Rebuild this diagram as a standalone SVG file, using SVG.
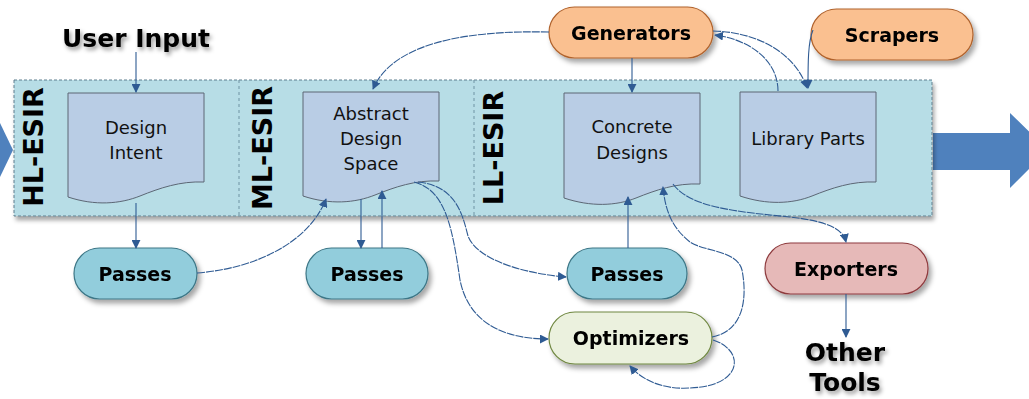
<svg xmlns="http://www.w3.org/2000/svg" width="1029" height="399" viewBox="0 0 1029 399">
  <defs>
    <filter id="shadow" x="-20%" y="-30%" width="140%" height="170%">
      <feDropShadow dx="3" dy="4" stdDeviation="2.5" flood-color="#000" flood-opacity="0.35"/>
    </filter>
    <filter id="bandShadow" x="-5%" y="-10%" width="110%" height="125%">
      <feDropShadow dx="2" dy="4" stdDeviation="2" flood-color="#000" flood-opacity="0.35"/>
    </filter>
    <filter id="textGlow" x="-20%" y="-40%" width="140%" height="180%">
      <feDropShadow dx="2" dy="3" stdDeviation="2" flood-color="#000" flood-opacity="0.4"/>
    </filter>
    <marker id="arrow" viewBox="0 0 10 10" refX="9" refY="5" markerWidth="9" markerHeight="9" markerUnits="userSpaceOnUse" orient="auto">
      <path d="M0,0 L10,5 L0,10 Z" fill="#2F5B93"/>
    </marker>
    <style>
      .band { fill: #B7DDE6; stroke: #5E7F8E; stroke-width: 1; stroke-dasharray: 3 2; }
      .divider { stroke: #6F93A3; stroke-width: 1; stroke-dasharray: 3 3; fill: none; }
      .doc { fill: #B9CDE5; stroke: #5C6775; stroke-width: 1; }
      .doctext { font-family: "DejaVu Sans", Verdana, sans-serif; font-size: 18px; fill: #111; text-anchor: middle; }
      .level { font-family: "DejaVu Sans", Verdana, sans-serif; font-weight: bold; font-size: 27px; fill: #000; text-anchor: middle; }
      .pilltext { font-family: "DejaVu Sans", Verdana, sans-serif; font-weight: bold; font-size: 19px; fill: #000; text-anchor: middle; }
      .big { font-family: "DejaVu Sans", Verdana, sans-serif; font-weight: bold; font-size: 25px; fill: #000; text-anchor: middle; }
      .passes { fill: #92CDDC; stroke: #3C7686; stroke-width: 1.2; }
      .gen { fill: #FAC090; stroke: #B0622C; stroke-width: 1.2; }
      .exp { fill: #E6B9B8; stroke: #8E3B3E; stroke-width: 1.2; }
      .opt { fill: #EBF1DE; stroke: #6F8740; stroke-width: 1.2; }
      .conn { fill: none; stroke: #2F5B93; stroke-width: 1.1; marker-end: url(#arrow); }
      .curve { stroke-dasharray: 8 1; }
      .bigarrow { fill: #4F81BD; }
    </style>
  </defs>

  <!-- flow arrows entering and leaving the IR band -->
  <polygon class="bigarrow" points="0,123 13,150 0,177"/>
  <polygon class="bigarrow" points="933,133 1010,133 1010,113 1048,150 1010,188 1010,170 933,170"/>

  <!-- IR band with its three levels -->
  <g id="band">
    <rect class="band" x="14" y="80" width="918" height="136" filter="url(#bandShadow)"/>
    <line class="divider" x1="239" y1="80" x2="239" y2="216"/>
    <line class="divider" x1="474" y1="80" x2="474" y2="216"/>
  </g>
  <g id="hl-esir"><text class="level" transform="translate(43,147) rotate(-90)">HL-ESIR</text></g>
  <g id="ml-esir"><text class="level" transform="translate(272,148) rotate(-90)">ML-ESIR</text></g>
  <g id="ll-esir"><text class="level" transform="translate(503,148) rotate(-90)">LL-ESIR</text></g>

  <!-- document nodes -->
  <g id="design-intent">
    <path class="doc" d="M68,93 H204 V182 C180,181 160,188 140,196 C120,204 95,206 68,197 Z"/>
    <text class="doctext" x="136" y="134">Design</text>
    <text class="doctext" x="136" y="159">Intent</text>
  </g>
  <g id="abstract-design-space">
    <path class="doc" d="M303,92 H439 V181 C415,180 395,187 375,195 C355,203 330,205 303,196 Z"/>
    <text class="doctext" x="371" y="120">Abstract</text>
    <text class="doctext" x="371" y="145">Design</text>
    <text class="doctext" x="371" y="170">Space</text>
  </g>
  <g id="concrete-designs">
    <path class="doc" d="M564,93 H700 V184 C676,183 656,190 636,198 C616,206 591,207 564,198 Z"/>
    <text class="doctext" x="632" y="133">Concrete</text>
    <text class="doctext" x="632" y="159">Designs</text>
  </g>
  <g id="library-parts">
    <path class="doc" d="M740,92 H876 V182 C852,181 832,188 812,196 C792,204 767,205 740,196 Z"/>
    <text class="doctext" x="808" y="145">Library Parts</text>
  </g>

  <!-- tool nodes -->
  <g id="generators" filter="url(#shadow)">
    <rect class="gen" x="549" y="7" width="164" height="51" rx="25.5"/>
    <text class="pilltext" x="631" y="40">Generators</text>
  </g>
  <g id="scrapers" filter="url(#shadow)">
    <rect class="gen" x="811" y="9" width="162" height="51" rx="25.5"/>
    <text class="pilltext" x="892" y="42">Scrapers</text>
  </g>
  <g id="passes-hl" filter="url(#shadow)">
    <rect class="passes" x="74" y="248" width="123" height="51" rx="25.5"/>
    <text class="pilltext" x="135" y="281">Passes</text>
  </g>
  <g id="passes-ml" filter="url(#shadow)">
    <rect class="passes" x="306" y="248" width="122" height="51" rx="25.5"/>
    <text class="pilltext" x="367" y="281">Passes</text>
  </g>
  <g id="passes-ll" filter="url(#shadow)">
    <rect class="passes" x="567" y="248" width="120" height="51" rx="25.5"/>
    <text class="pilltext" x="627" y="281">Passes</text>
  </g>
  <g id="optimizers" filter="url(#shadow)">
    <rect class="opt" x="549" y="312" width="163" height="52" rx="26"/>
    <text class="pilltext" x="631" y="345">Optimizers</text>
  </g>
  <g id="exporters" filter="url(#shadow)">
    <rect class="exp" x="765" y="243" width="163" height="51" rx="25.5"/>
    <text class="pilltext" x="846" y="276">Exporters</text>
  </g>

  <!-- external endpoints -->
  <g id="user-input" filter="url(#textGlow)">
    <text class="big" x="136" y="47">User Input</text>
  </g>
  <g id="other-tools" filter="url(#textGlow)">
    <text class="big" x="845" y="361">Other</text>
    <text class="big" x="845" y="391">Tools</text>
  </g>

  <!-- connectors -->
  <g id="connectors">
    <path class="conn" d="M136,52 V92"/>
    <path class="conn" d="M136,203 V248"/>
    <path class="conn curve" d="M197,273 C260,268 310,240 326,199"/>
    <path class="conn" d="M361,199 V248"/>
    <path class="conn" d="M382,248 V191"/>
    <path class="conn curve" d="M549,32 C460,30 392,45 373,89"/>
    <path class="conn" d="M632,58 V92"/>
    <path class="conn curve" d="M418,182 C455,186 462,212 468,236 C478,262 530,274 566,277"/>
    <path class="conn curve" d="M414,182 C445,190 452,225 460,280 C470,330 515,339 548,339"/>
    <path class="conn" d="M628,248 V197"/>
    <path class="conn curve" d="M712,337 C748,330 746,290 742,270 C737,250 705,252 690,242 C672,228 665,210 663,187"/>
    <path class="conn curve" d="M713,340 C745,350 744,386 690,388 C660,390 640,378 630,366"/>
    <path class="conn curve" d="M673,184 C690,208 740,212 790,217 C825,221 843,228 846,242"/>
    <path class="conn curve" d="M778,91 C778,62 752,40 715,35"/>
    <path class="conn curve" d="M713,31 C760,32 796,55 807,88"/>
    <path class="conn" d="M813,30 C808,42 808,62 808,88"/>
    <path class="conn" d="M846,294 V337"/>
  </g>
</svg>
